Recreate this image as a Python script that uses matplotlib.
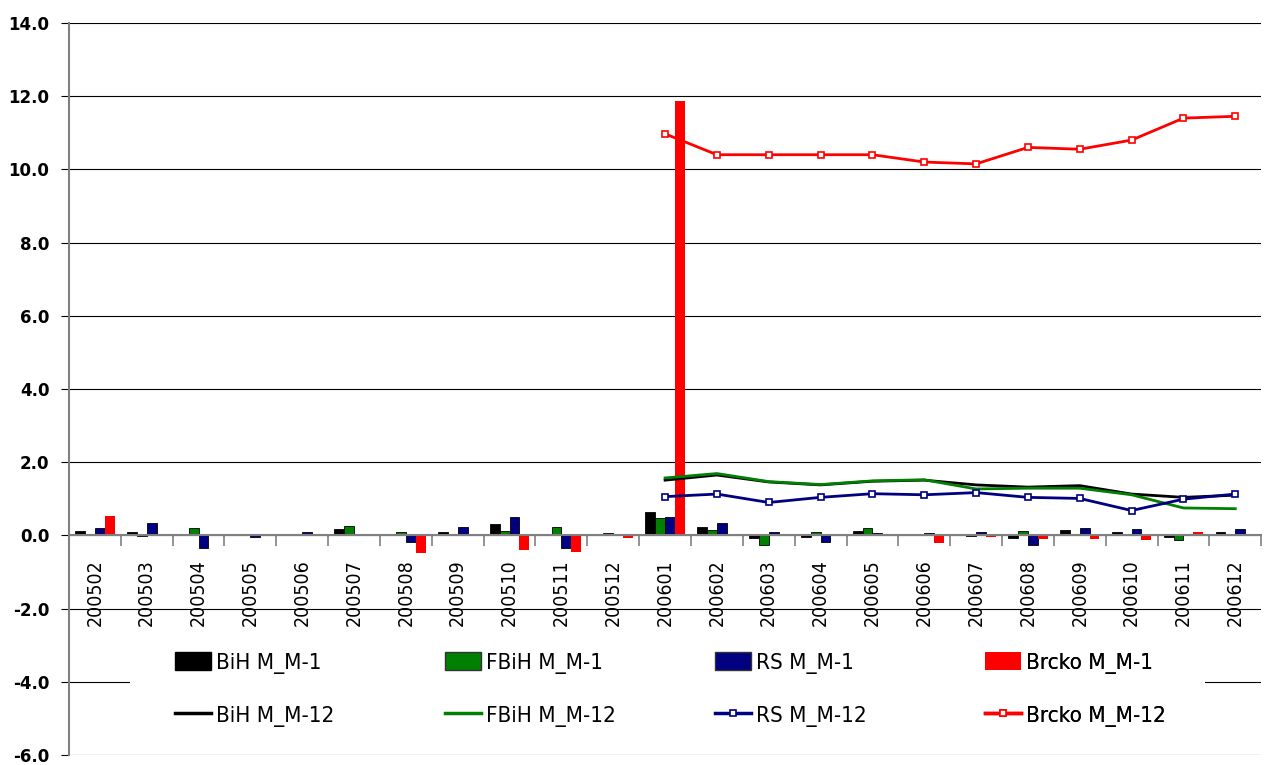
import numpy as np
import matplotlib
matplotlib.use("Agg")
import matplotlib.pyplot as plt
from matplotlib.patches import Patch, Rectangle
from matplotlib.lines import Line2D

## data
months = ["200502", "200503", "200504", "200505", "200506", "200507", "200508",
          "200509", "200510", "200511", "200512", "200601", "200602", "200603",
          "200604", "200605", "200606", "200607", "200608", "200609", "200610",
          "200611", "200612"]

bih_m1 = [0.11, 0.08, 0.01, 0.03, 0.05, 0.17, 0.01, 0.09, 0.32, 0.01, 0.05, 0.65,
          0.24, -0.08, -0.03, 0.13, 0.05, 0.03, -0.08, 0.15, 0.08, -0.05, 0.09]
fbih_m1 = [0.05, -0.02, 0.20, 0.01, 0.01, 0.25, 0.10, 0.05, 0.13, 0.23, 0.06, 0.47,
           0.16, -0.25, 0.09, 0.20, 0.05, -0.01, 0.13, 0.05, 0.01, -0.13, 0.01]
rs_m1 = [0.20, 0.33, -0.34, -0.04, 0.10, 0.02, -0.18, 0.23, 0.50, -0.34, 0.01, 0.50,
         0.33, 0.10, -0.17, 0.06, 0.06, 0.09, -0.27, 0.20, 0.17, 0.0, 0.17]
brcko_m1 = [0.52, 0.0, 0.0, 0.0, 0.0, 0.0, -0.48, 0.0, -0.39, -0.45, -0.07, 11.88,
            0.0, 0.03, 0.0, 0.0, -0.21, -0.03, -0.09, -0.09, -0.13, 0.10, 0.0]

# M_M-12 only available from 200601
nan = np.nan
bih_m12 = [nan] * 11 + [1.51, 1.65, 1.46, 1.38, 1.48, 1.51, 1.38, 1.32, 1.36, 1.13, 1.04, 1.10]
fbih_m12 = [nan] * 11 + [1.57, 1.69, 1.47, 1.39, 1.49, 1.52, 1.27, 1.29, 1.29, 1.11, 0.75, 0.73]
rs_m12 = [nan] * 11 + [1.06, 1.13, 0.90, 1.04, 1.14, 1.11, 1.17, 1.04, 1.01, 0.68, 0.99, 1.13]
brcko_m12 = [nan] * 11 + [10.97, 10.40, 10.40, 10.40, 10.40, 10.20, 10.15, 10.60, 10.55, 10.80, 11.40, 11.45]

## plot
black, green, navy, red = "#000000", "#008000", "#000080", "#FF0000"
narrow = {"family": "DejaVu Sans", "stretch": "condensed"}

fig = plt.figure(figsize=(12.65, 7.65), dpi=100)
ax = fig.add_axes([0.0545, 0.013, 0.9425, 0.957])

x = np.arange(len(months))
w = 0.19
ax.bar(x - 1.5 * w, bih_m1, w, color=black, edgecolor=black, linewidth=0.6, zorder=3)
ax.bar(x - 0.5 * w, fbih_m1, w, color=green, edgecolor=black, linewidth=0.6, zorder=3)
ax.bar(x + 0.5 * w, rs_m1, w, color=navy, edgecolor=black, linewidth=0.6, zorder=3)
ax.bar(x + 1.5 * w, brcko_m1, w, color=red, edgecolor="none", zorder=3)

ax.plot(x, bih_m12, color=black, lw=2, zorder=4)
ax.plot(x, fbih_m12, color=green, lw=2, zorder=4)
ax.plot(x, rs_m12, color=navy, lw=2, marker="s", ms=4, mfc="white", mew=1.2, zorder=4)
ax.plot(x, brcko_m12, color=red, lw=2, marker="s", ms=4, mfc="white", mew=1.2, zorder=4)

ax.set_xlim(-0.5, len(months) - 0.5)
ax.set_ylim(-6, 14)
ax.set_yticks(np.arange(-6, 15, 2))
ax.set_yticklabels(["%.1f" % v for v in np.arange(-6, 15, 2)], fontweight="bold", fontsize=12)
ax.tick_params(axis="y", length=6, color="black", pad=8)
ax.grid(axis="y", color="black", lw=0.8, zorder=0)

for s in ["top", "right"]:
    ax.spines[s].set_visible(False)
ax.spines["left"].set_color("#808080")
ax.spines["left"].set_linewidth(1.5)
ax.spines["bottom"].set_position(("data", 0))
ax.spines["bottom"].set_color("#808080")
ax.spines["bottom"].set_linewidth(1.5)
ax.spines["bottom"].set_zorder(5)

ax.set_xticks(x)
ax.set_xticklabels(months, rotation=90, fontsize=14, **narrow)
ax.set_xticks(np.arange(-0.5, len(months), 1), minor=True)
ax.tick_params(axis="x", which="major", length=0, pad=17)
ax.tick_params(axis="x", which="minor", length=8, color="#808080", width=1.2)

# legend area covers the -4 gridline
ax.add_patch(Rectangle(((130 - 69) / 1192, (755 - 745) / 732), 1075 / 1192, 110 / 732,
                       transform=ax.transAxes, facecolor="white", edgecolor="none", zorder=6))

cols = [
    (Patch(facecolor=black, edgecolor=black), "BiH M_M-1",
     Line2D([], [], color=black, lw=2.5), "BiH M_M-12"),
    (Patch(facecolor=green, edgecolor="#333333"), "FBiH M_M-1",
     Line2D([], [], color=green, lw=2.5), "FBiH M_M-12"),
    (Patch(facecolor=navy, edgecolor="#333333"), "RS M_M-1",
     Line2D([], [], color=navy, lw=2.5, marker="s", ms=4, mfc="white", mew=1.2), "RS M_M-12"),
    (Patch(facecolor=red, edgecolor="none"), "Brcko M_M-1",
     Line2D([], [], color=red, lw=2.5, marker="s", ms=4, mfc="white", mew=1.2), "Brcko M_M-12"),
]
col_x = [175, 445, 715, 985]
for (h1, l1, h2, l2), cx in zip(cols, col_x):
    leg = ax.legend([h1, h2], [l1, l2], loc="upper left",
                    bbox_to_anchor=(cx / 1265, 1 - 652 / 765), bbox_transform=fig.transFigure,
                    frameon=False, prop=dict(size=16, **narrow),
                    handlelength=1.6, handleheight=0.9, handletextpad=0.25, labelspacing=1.4,
                    borderpad=0, borderaxespad=0)
    leg.set_zorder(7)
    ax.add_artist(leg)

plt.savefig("out.png", dpi=100)
